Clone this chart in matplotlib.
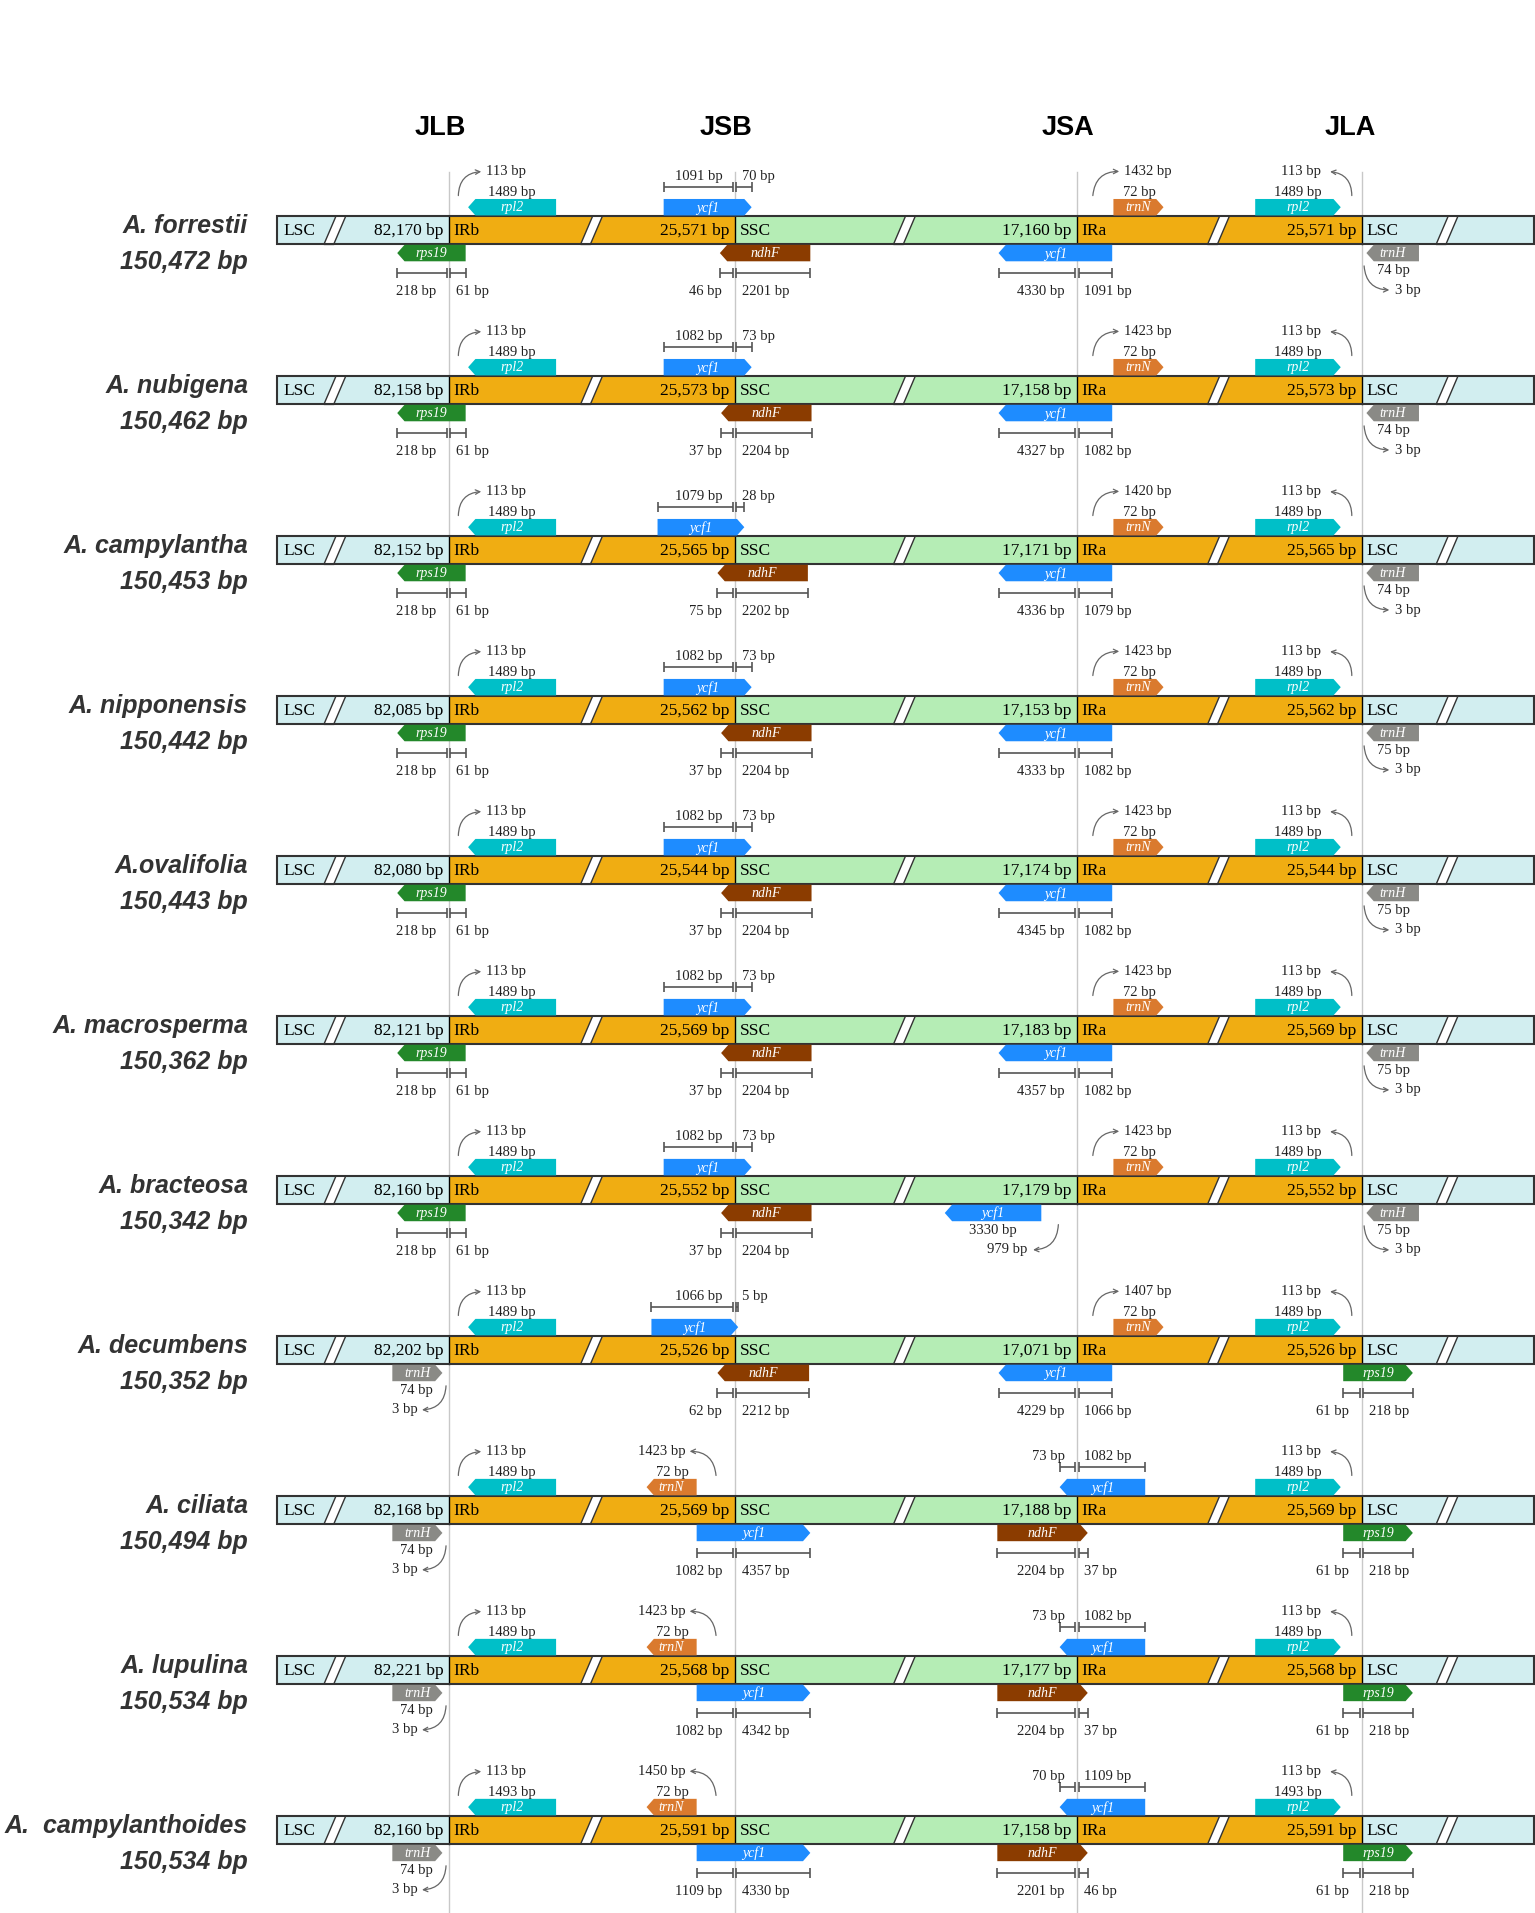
import matplotlib.pyplot as plt
from matplotlib.patches import Polygon, Rectangle, FancyArrowPatch

# ---------------- data ----------------
species = ['A. forrestii', 'A. nubigena', 'A. campylantha', 'A. nipponensis', 'A.ovalifolia',
           'A. macrosperma', 'A. bracteosa', 'A. decumbens', 'A. ciliata', 'A. lupulina',
           'A.  campylanthoides']
genome = ['150,472', '150,462', '150,453', '150,442', '150,443', '150,362',
          '150,342', '150,352', '150,494', '150,534', '150,534']
lsc = ['82,170', '82,158', '82,152', '82,085', '82,080', '82,121',
       '82,160', '82,202', '82,168', '82,221', '82,160']
ir = ['25,571', '25,573', '25,565', '25,562', '25,544', '25,569',
      '25,552', '25,526', '25,569', '25,568', '25,591']
ssc = ['17,160', '17,158', '17,171', '17,153', '17,174', '17,183',
       '17,179', '17,071', '17,188', '17,177', '17,158']

junctions = ['JLB', 'JSB', 'JSA', 'JLA']

# rpl2 in IRb and IRa (distance to junction, gene length)
rpl2_gap = ['113'] * 11
rpl2_len = ['1489'] * 10 + ['1493']

# gene below the JLB junction
jlb_bot = ['rps19'] * 7 + ['trnH'] * 4
jlb_bot_a = ['218'] * 7 + ['74'] * 4
jlb_bot_b = ['61'] * 7 + ['3'] * 4

# gene above the JSB junction
jsb_top = ['ycf1'] * 8 + ['trnN'] * 3
jsb_top_a = ['1091', '1082', '1079', '1082', '1082', '1082', '1082', '1066', '1423', '1423', '1450']
jsb_top_b = ['70', '73', '28', '73', '73', '73', '73', '5', '72', '72', '72']

# gene below the JSB junction
jsb_bot = ['ndhF'] * 8 + ['ycf1'] * 3
jsb_bot_a = ['46', '37', '75', '37', '37', '37', '37', '62', '1082', '1082', '1109']
jsb_bot_b = ['2201', '2204', '2202', '2204', '2204', '2204', '2204', '2212', '4357', '4342', '4330']

# gene above the JSA junction
jsa_top = ['trnN'] * 8 + ['ycf1'] * 3
jsa_top_a = ['1432', '1423', '1420', '1423', '1423', '1423', '1423', '1407', '73', '73', '70']
jsa_top_b = ['72'] * 8 + ['1082', '1082', '1109']

# gene below the JSA junction (A. bracteosa ycf1 does not cross it)
jsa_bot = ['ycf1'] * 8 + ['ndhF'] * 3
jsa_bot_a = ['4330', '4327', '4336', '4333', '4345', '4357', '3330', '4229', '2204', '2204', '2201']
jsa_bot_b = ['1091', '1082', '1079', '1082', '1082', '1082', '979', '1066', '37', '37', '46']
jsa_cross = [True] * 6 + [False] + [True] * 4

# gene below the JLA junction
jla_bot = ['trnH'] * 7 + ['rps19'] * 4
jla_bot_a = ['74', '74', '74', '75', '75', '75', '75', '61', '61', '61', '61']
jla_bot_b = ['3'] * 7 + ['218'] * 4

# ---------------- style / layout ----------------
LSC_C = '#d2eef0'
IR_C = '#f0ad12'
SSC_C = '#b5edb5'
gene_col = {'rpl2': '#00bfc8', 'ycf1': '#1e8cff', 'rps19': '#23882a',
            'ndhF': '#8b3c00', 'trnN': '#da7a2e', 'trnH': '#8a8a86'}
SERIF = 'Liberation Serif'
SANS = 'Liberation Sans'

W, H = 1535, 1913
S = 1.2222
X_L, X_R = 227, 1255
J = [367, 601, 881, 1114]
head_x = [360, 594, 874, 1105]
slashes = [265, 475, 731, 988, 1175]
Y0, PITCH = 188.3, 130.9
HB = 11.7

# ycf1 extents above JSB for rows 1-8, ndhF extents below JSB
ycf1_jsb = [(543, 615), (543, 615), (538, 609), (543, 615), (543, 615),
            (543, 615), (543, 615), (533, 604)]
ndhf_jsb = [(589, 663), (590, 664), (587, 661), (590, 664), (590, 664),
            (590, 664), (590, 664), (587, 662)]

fig = plt.figure(figsize=(W / 100, H / 100), dpi=100)
ax = fig.add_axes([0, 0, 1, 1])
ax.set_xlim(0, W / S)
ax.set_ylim(H / S, 0)
ax.axis('off')


def gene(x0, x1, c, side, direction, name):
    if side == 'top':
        y0, y1 = c - 25.5, c - HB - 0.3
    else:
        y0, y1 = c + HB + 0.3, c + 25.5
    ym = (y0 + y1) / 2
    tip = 6
    if direction == 'R':
        pts = [(x0, y0), (x1 - tip, y0), (x1, ym), (x1 - tip, y1), (x0, y1)]
    else:
        pts = [(x0 + tip, y0), (x1, y0), (x1, y1), (x0 + tip, y1), (x0, ym)]
    ax.add_patch(Polygon(pts, closed=True, fc=gene_col[name], ec='none', zorder=3))
    ax.text((x0 + x1) / 2, ym + 0.5, name, color='white', fontsize=10, style='italic',
            family=SERIF, ha='center', va='center', zorder=4)


def span(x0, x1, y):
    kw = dict(color='#555555', lw=1.2, zorder=2, solid_capstyle='butt')
    ax.plot([x0, x1], [y, y], **kw)
    ax.plot([x0, x0], [y - 4, y + 4], **kw)
    ax.plot([x1, x1], [y - 4, y + 4], **kw)


def label(x, y, txt, ha='center'):
    ax.text(x, y, txt + ' bp', fontsize=10.5, family=SERIF, color='#222222',
            ha=ha, va='center', zorder=4)


def pair(jx, x0, x1, c, a, b, side):
    y = c - 35 if side == 'top' else c + 35
    ty = c - 44 if side == 'top' else c + 50
    span(x0, jx - 1.5, y)
    span(jx + 1.5, x1, y)
    label(jx - 10, ty, a, 'right')
    label(jx + 6, ty, b, 'left')


def curl(p0, p1, rad):
    ax.add_patch(FancyArrowPatch(p0, p1, connectionstyle='arc3,rad=%s' % rad,
                                 arrowstyle='->', mutation_scale=8, color='#666666',
                                 lw=0.9, zorder=2))


# headers and junction lines
for k in range(4):
    ax.text(head_x[k], 105, junctions[k], fontsize=19.5, fontweight='bold', family=SANS,
            ha='center', va='center')
    ax.plot([J[k], J[k]], [141, H / S], color='#c8c8c8', lw=1, zorder=0)

for i in range(len(species)):
    c = Y0 + i * PITCH

    # names
    ax.text(203, c - 3, species[i], fontsize=18, fontweight='bold', style='italic',
            family=SANS, color='#333333', ha='right', va='center')
    ax.text(203, c + 26, genome[i] + ' bp', fontsize=18, fontweight='bold', style='italic',
            family=SANS, color='#333333', ha='right', va='center')

    # genome bar
    segs = [(X_L, J[0], LSC_C), (J[0], J[1], IR_C), (J[1], J[2], SSC_C),
            (J[2], J[3], IR_C), (J[3], X_R, LSC_C)]
    for x0, x1, col in segs:
        ax.add_patch(Rectangle((x0, c - HB), x1 - x0, 2 * HB, fc=col, ec='none', zorder=1))
    for sx in slashes:
        ax.add_patch(Polygon([(sx, c + HB), (sx + 8, c + HB), (sx + 18, c - HB), (sx + 10, c - HB)],
                             closed=True, fc='white', ec='#333333', lw=1, zorder=1.5))
    for jx in J:
        ax.plot([jx, jx], [c - HB, c + HB], color='black', lw=1, zorder=1.6)
    ax.add_patch(Rectangle((X_L, c - HB), X_R - X_L, 2 * HB, fc='none', ec='#333333',
                           lw=1.5, zorder=1.7))

    bar_kw = dict(fontsize=12.5, family=SERIF, va='center', zorder=4)
    ax.text(X_L + 5, c + 0.5, 'LSC', ha='left', **bar_kw)
    ax.text(J[0] - 4, c + 0.5, lsc[i] + ' bp', ha='right', **bar_kw)
    ax.text(J[0] + 4, c + 0.5, 'IRb', ha='left', **bar_kw)
    ax.text(J[1] - 4, c + 0.5, ir[i] + ' bp', ha='right', **bar_kw)
    ax.text(J[1] + 4, c + 0.5, 'SSC', ha='left', **bar_kw)
    ax.text(J[2] - 4, c + 0.5, ssc[i] + ' bp', ha='right', **bar_kw)
    ax.text(J[2] + 4, c + 0.5, 'IRa', ha='left', **bar_kw)
    ax.text(J[3] - 4, c + 0.5, ir[i] + ' bp', ha='right', **bar_kw)
    ax.text(J[3] + 4, c + 0.5, 'LSC', ha='left', **bar_kw)

    # JLB top: rpl2
    gene(383, 455, c, 'top', 'L', 'rpl2')
    label(419, c - 31, rpl2_len[i])
    curl((375, c - 26), (396, c - 48), -0.5)
    label(398, c - 48, rpl2_gap[i], 'left')

    # JLB bottom
    if jlb_bot[i] == 'rps19':
        gene(325, 381, c, 'bot', 'L', 'rps19')
        pair(J[0], 325, 381, c, jlb_bot_a[i], jlb_bot_b[i], 'bot')
    else:
        gene(321, 362, c, 'bot', 'R', 'trnH')
        label(341, c + 33, jlb_bot_a[i])
        curl((365, c + 27), (343, c + 49), -0.5)
        label(342, c + 49, jlb_bot_b[i], 'right')

    # JSB top
    if jsb_top[i] == 'ycf1':
        x0, x1 = ycf1_jsb[i]
        gene(x0, x1, c, 'top', 'R', 'ycf1')
        pair(J[1], x0, x1, c, jsb_top_a[i], jsb_top_b[i], 'top')
    else:
        gene(529, 570, c, 'top', 'L', 'trnN')
        label(550, c - 31, jsb_top_b[i])
        curl((586, c - 26), (562, c - 48), 0.5)
        label(561, c - 48, jsb_top_a[i], 'right')

    # JSB bottom
    if jsb_bot[i] == 'ndhF':
        x0, x1 = ndhf_jsb[i]
        gene(x0, x1, c, 'bot', 'L', 'ndhF')
        pair(J[1], x0, x1, c, jsb_bot_a[i], jsb_bot_b[i], 'bot')
    else:
        gene(570, 663, c, 'bot', 'R', 'ycf1')
        pair(J[1], 570, 663, c, jsb_bot_a[i], jsb_bot_b[i], 'bot')

    # JSA top
    if jsa_top[i] == 'trnN':
        gene(911, 952, c, 'top', 'R', 'trnN')
        label(932, c - 31, jsa_top_b[i])
        curl((894, c - 26), (918, c - 48), -0.5)
        label(920, c - 48, jsa_top_a[i], 'left')
    else:
        gene(867, 937, c, 'top', 'L', 'ycf1')
        pair(J[2], 867, 937, c, jsa_top_a[i], jsa_top_b[i], 'top')

    # JSA bottom
    if jsa_bot[i] == 'ycf1' and jsa_cross[i]:
        gene(817, 910, c, 'bot', 'L', 'ycf1')
        pair(J[2], 817, 910, c, jsa_bot_a[i], jsa_bot_b[i], 'bot')
    elif jsa_bot[i] == 'ycf1':
        gene(773, 852, c, 'bot', 'L', 'ycf1')
        label(812, c + 33, jsa_bot_a[i])
        curl((866, c + 26), (843, c + 49), -0.5)
        label(841, c + 49, jsa_bot_b[i], 'right')
    else:
        gene(816, 890, c, 'bot', 'R', 'ndhF')
        pair(J[2], 816, 890, c, jsa_bot_a[i], jsa_bot_b[i], 'bot')

    # JLA top: rpl2
    gene(1027, 1097, c, 'top', 'R', 'rpl2')
    label(1062, c - 31, rpl2_len[i])
    curl((1106, c - 26), (1086, c - 48), 0.5)
    label(1081, c - 48, rpl2_gap[i], 'right')

    # JLA bottom
    if jla_bot[i] == 'trnH':
        gene(1118, 1161, c, 'bot', 'L', 'trnH')
        label(1140, c + 33, jla_bot_a[i])
        curl((1116, c + 27), (1139, c + 49), 0.5)
        label(1141, c + 49, jla_bot_b[i], 'left')
    else:
        gene(1099, 1156, c, 'bot', 'R', 'rps19')
        pair(J[3], 1099, 1156, c, jla_bot_a[i], jla_bot_b[i], 'bot')

fig.savefig('out.png', dpi=100, facecolor='white')
